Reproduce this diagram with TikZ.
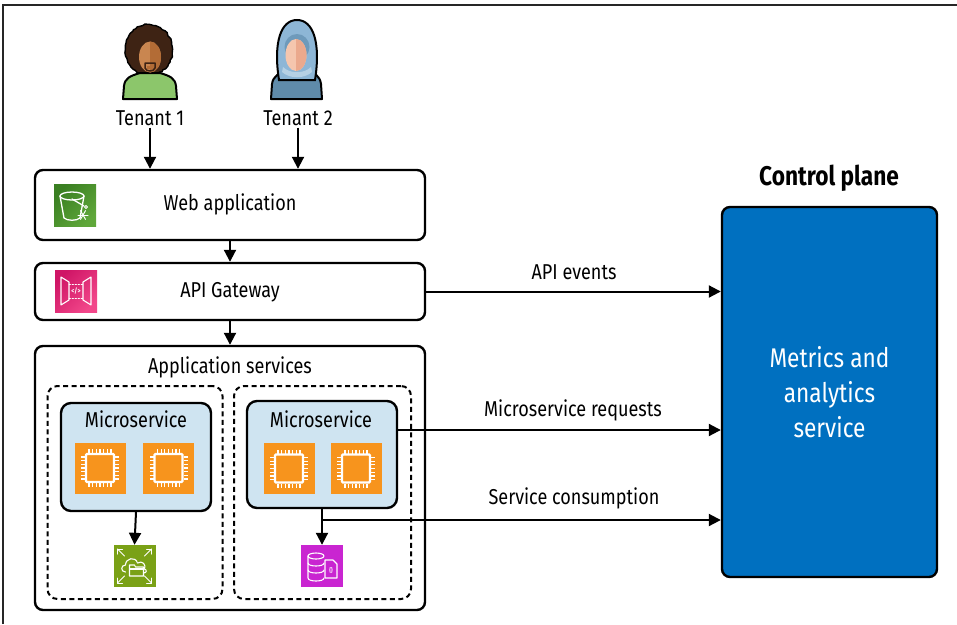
\documentclass[tikz,border=0pt]{standalone}
\usepackage{fontspec}
\setmainfont{Fira Sans}[FakeStretch=0.84]
\usetikzlibrary{arrows.meta,decorations.pathmorphing}

\definecolor{hairbrown}{HTML}{3E2314}
\definecolor{skin}{HTML}{C98650}
\definecolor{skinshade}{HTML}{B36C36}
\definecolor{shirtgreen}{HTML}{8CC66B}
\definecolor{hijablight}{HTML}{8DB6D6}
\definecolor{hijabmid}{HTML}{6E9ABB}
\definecolor{hijabdark}{HTML}{5F8BAA}
\definecolor{facelight}{HTML}{F5C6AE}
\definecolor{facedark}{HTML}{EBA98D}
\definecolor{msblue}{HTML}{CFE4F1}
\definecolor{cpblue}{HTML}{0070C0}
\definecolor{chiporange}{HTML}{F7941D}
\definecolor{efsgreen}{HTML}{7AA116}
\definecolor{dbpurple}{HTML}{C925D1}
\definecolor{webdark}{HTML}{3A7F22}
\definecolor{weblight}{HTML}{5FA73A}
\definecolor{apidark}{HTML}{CF1566}
\definecolor{apilight}{HTML}{F2478A}

\tikzset{
  box/.style={draw, line width=2.4pt, rounded corners=8pt},
  dashbox/.style={draw, line width=2pt, dash pattern=on 5pt off 3.5pt, rounded corners=10pt},
  flow/.style={line width=2pt, -{Triangle[width=12pt,length=12pt]}},
  lbl/.style={font=\fontsize{21.5}{25}\selectfont, inner sep=2pt},
  icon/.style={minimum width=42pt, minimum height=42pt, inner sep=0pt},
  chip/.style={fill=chiporange, minimum width=51pt, minimum height=51pt, inner sep=0pt},
  glyph/.style={draw=white, line width=1.3pt, line join=round, line cap=round},
}

\begin{document}
\begin{tikzpicture}[x=1pt, y=-1pt]
\useasboundingbox (0,0) rectangle (957,624);

% outer frame
\draw[line width=1.6pt, black!85] (3,624) -- (3,5) -- (957,5);

% ---------- Tenant 1 ----------
\draw[fill=hairbrown, line width=1.4pt,
      decorate, decoration={random steps, segment length=2.5pt, amplitude=0.8pt}]
  (149,50) ellipse (23.5 and 25.5);
\draw[fill=shirtgreen, line width=2pt, line join=round]
  (123,99) -- (124,86) .. controls (125,78) and (130,76) .. (140,73)
  -- (160,73) .. controls (170,76) and (175,78) .. (176,86) -- (177,99) -- cycle;
\fill[skin] (150,57) ellipse (11 and 15.5);
\begin{scope}
  \clip (150,40) rectangle (165,75);
  \fill[skinshade] (150,57) ellipse (11 and 15.5);
\end{scope}
\draw[hairbrown, line width=1.5pt, line join=round]
  (145,63) -- (155,63) -- (155,68) .. controls (154,72) and (146,72) .. (145,68) -- cycle;
\fill[skinshade] (147,66) rectangle (153,68.5);
\node[lbl] (t1) at (150,118) {Tenant 1};

% ---------- Tenant 2 ----------
\draw[fill=hijabdark, line width=2pt, line join=round]
  (271,99) -- (272,84) .. controls (273,76) and (280,72) .. (288,70)
  -- (306,70) .. controls (314,72) and (320,76) .. (321,84) -- (322,99) -- cycle;
\draw[fill=hijablight, line width=2pt]
  (279,80) .. controls (273,42) and (281,20) .. (297,20)
  .. controls (313,20) and (321,42) .. (315,80) -- cycle;
\fill[hijabmid] (297,47) ellipse (12.5 and 13);
\fill[facelight] (296,55) ellipse (10.5 and 16);
\begin{scope}
  \clip (296,36) rectangle (310,72);
  \fill[facedark] (296,55) ellipse (10.5 and 16);
\end{scope}
\fill[hijablight!65!white] (283,67) .. controls (290,74) and (304,74) .. (311,67)
  -- (312,72) .. controls (304,79) and (290,79) .. (282,72) -- cycle;
\node[lbl] (t2) at (298,118) {Tenant 2};

% ---------- Web application ----------
\node[box, minimum width=390pt, minimum height=70pt] (web) at (230,205) {};
\node[lbl] (webtxt) at (230,204) {Web application};
\node[icon, left color=webdark, right color=weblight, shading angle=45] (webicon) at (75,205) {};
\begin{scope}[shift={(webicon.center)}]
  \draw[glyph] (-3,-9) ellipse (12 and 4);
  \draw[glyph] (-15,-9) -- (-11,13) .. controls (-8,16) and (2,16) .. (5,13) -- (9,-9);
  \draw[glyph] (-3,-6) -- (9,1);
  \draw[glyph, line width=1pt] (11,2) circle (1.5);
  \foreach \a in {0,60,120}
    \draw[glyph, line width=1pt] (8,10) ++(\a:5) -- ++(\a+180:10);
\end{scope}

% ---------- API Gateway ----------
\node[box, minimum width=390pt, minimum height=57pt] (api) at (230,291.5) {};
\node[lbl] (apitxt) at (230,292) {API Gateway};
\node[icon, left color=apidark, right color=apilight, shading angle=45] (apiicon) at (76,291) {};
\begin{scope}[shift={(apiicon.center)}]
  \draw[glyph, line width=1.1pt] (-15,-14) -- (-7,-9) -- (-7,9) -- (-15,14) -- cycle;
  \draw[glyph, line width=1.1pt] (15,-14) -- (7,-9) -- (7,9) -- (15,14) -- cycle;
  \draw[glyph, line width=0.9pt, dash pattern=on 1.5pt off 1.5pt] (-7,-7) -- (7,-7);
  \draw[glyph, line width=0.9pt, dash pattern=on 1.5pt off 1.5pt] (-7,7) -- (7,7);
  \node[text=white, font=\fontsize{7}{8}\selectfont\bfseries, inner sep=0pt] (apicode) at (0,0) {</>};
\end{scope}

% ---------- Application services ----------
\node[box, minimum width=390pt, minimum height=264pt] (apps) at (230,478) {};
\node[lbl] (appstxt) at (230,367) {Application services};
\node[dashbox, minimum width=175pt, minimum height=213pt] (grp1) at (135,492.5) {};
\node[dashbox, minimum width=177pt, minimum height=213pt] (grp2) at (322.5,492.5) {};

\node[box, fill=msblue, rounded corners=10pt, minimum width=150pt, minimum height=108pt] (ms1) at (136,457) {};
\node[lbl] (ms1txt) at (136,419) {Microservice};
\node[box, fill=msblue, rounded corners=10pt, minimum width=150pt, minimum height=107pt] (ms2) at (322,454.5) {};
\node[lbl] (ms2txt) at (321,419) {Microservice};

\node[chip] (c1) at (100,468) {};
\node[chip] (c2) at (168.5,468) {};
\node[chip] (c3) at (289,468.5) {};
\node[chip] (c4) at (356,468.5) {};
\foreach \c in {c1,c2,c3,c4}{
  \begin{scope}[shift={(\c.center)}]
    \draw[draw=white, line width=2.2pt, rounded corners=1pt] (-14,-14) rectangle (14,14);
    \foreach \p in {-11,-7.33,...,11.5}{
      \draw[white, line width=1.3pt] (\p,-15) -- (\p,-19);
      \draw[white, line width=1.3pt] (\p,15) -- (\p,19);
      \draw[white, line width=1.3pt] (-15,\p) -- (-19,\p);
      \draw[white, line width=1.3pt] (15,\p) -- (19,\p);
    }
  \end{scope}
}

% file system icon
\node[icon, fill=efsgreen] (efs) at (134.5,566) {};
\begin{scope}[shift={(efs.center)}]
  \draw[glyph, line width=1.1pt] (-9,6) .. controls (-14,6) and (-14,-1) .. (-9,-1)
    .. controls (-9,-8) and (1,-10) .. (3,-3) .. controls (8,-6) and (12,-1) .. (10,3)
    .. controls (13,4) and (12,7) .. (9,7);
  \draw[glyph, line width=1.1pt] (-5,-1) -- (-5,10) -- (9,10) -- (9,1) -- (1,1) -- (0,-1) -- cycle;
  \draw[glyph, line width=1.1pt] (-5,3) -- (9,3);
  \foreach \sx/\sy in {-1/-1, 1/-1, -1/1, 1/1}{
    \draw[glyph, line width=1pt] (\sx*10,\sy*10) -- (\sx*17,\sy*17);
    \draw[glyph, line width=1pt] (\sx*12,\sy*17) -- (\sx*17,\sy*17) -- (\sx*17,\sy*12);
  }
\end{scope}

% database icon
\node[icon, fill=dbpurple] (db) at (322,566) {};
\begin{scope}[shift={(db.center)}]
  \draw[glyph, line width=1.1pt] (-6,-10) ellipse (8 and 3);
  \draw[glyph, line width=1.1pt] (-14,-10) -- (-14,12) .. controls (-14,16) and (2,16) .. (2,12);
  \draw[glyph, line width=1.1pt] (-14,-3) .. controls (-14,1) and (2,1) .. (2,-3);
  \draw[glyph, line width=1.1pt] (-14,4) .. controls (-14,8) and (2,8) .. (2,4);
  \draw[glyph, line width=1.1pt, fill=dbpurple] (3,-6) -- (11,-6) -- (15,-2) -- (15,12) -- (3,12) -- cycle;
  \node[text=white, font=\fontsize{6}{7}\selectfont\bfseries, inner sep=0pt] (dbcode) at (9,4) {\{\}};
\end{scope}

% ---------- Control plane ----------
\node[font=\fontsize{27}{30}\selectfont\bfseries] (cptitle) at (829,178) {Control plane};
\node[box, fill=cpblue, minimum width=215pt, minimum height=370pt, text=white, align=center,
      font=\fontsize{27}{35}\selectfont] (cp) at (829.5,392) {Metrics and\\analytics\\service};

% ---------- Connectors ----------
\draw[flow] (t1.south) -- (t1.south |- web.north);
\draw[flow] (t2.south) -- (t2.south |- web.north);
\draw[flow] (web.south) -- (api.north);
\draw[flow] (api.south) -- (apps.north);
\draw[flow] (ms1.south) -- (efs.north);
\draw[flow] (ms2.south) -- (db.north);

\draw[flow] (api.east) -- (api.east -| cp.west);
\node[lbl] (apiev) at (574,272) {API events};

\coordinate (mreq) at (397,430);
\draw[flow] (mreq) -- (mreq -| cp.west);
\node[lbl] (mreqtxt) at (573,410) {Microservice requests};

\coordinate (scons) at (322,520);
\draw[flow] (scons) -- (scons -| cp.west);
\node[lbl] (sconstxt) at (574,498) {Service consumption};
\end{tikzpicture}
\end{document}
